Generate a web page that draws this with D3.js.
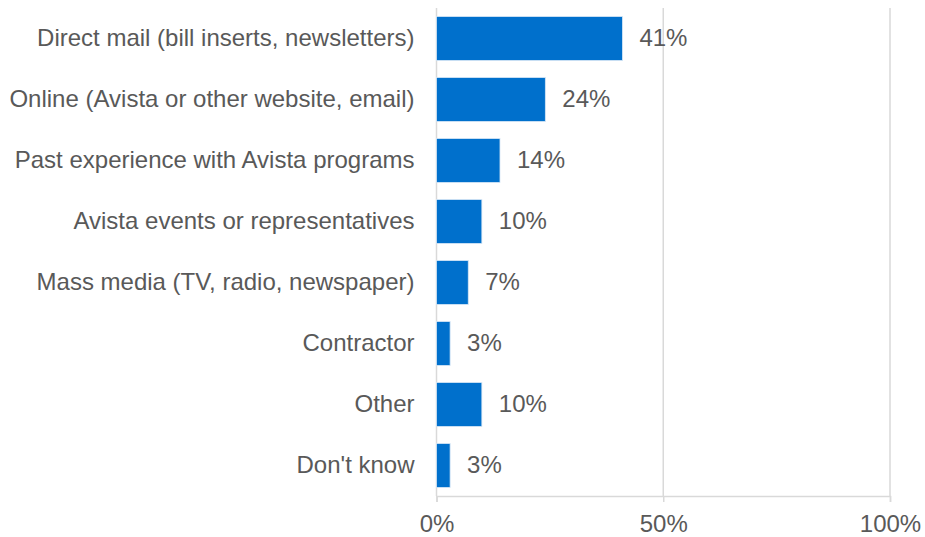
<!DOCTYPE html>
<html>
<head>
<meta charset="utf-8">
<script src="https://cdn.jsdelivr.net/npm/d3@7"></script>
<style>
  html, body { margin: 0; padding: 0; background: #fff; }
  svg { display: block; font-family: "Liberation Sans", Arial, sans-serif; }
</style>
</head>
<body>
<svg id="chart" width="925" height="537"></svg>
<script>
const categories = [
  "Direct mail (bill inserts, newsletters)",
  "Online (Avista or other website, email)",
  "Past experience with Avista programs",
  "Avista events or representatives",
  "Mass media (TV, radio, newspaper)",
  "Contractor",
  "Other",
  "Don't know"
];
const values = [0.41, 0.24, 0.14, 0.10, 0.07, 0.03, 0.10, 0.03];
const tickValues = [0, 0.5, 1];

const svg = d3.select("#chart");
const margin = { top: 8, right: 35, bottom: 41, left: 436.5 };
const width = 925 - margin.left - margin.right;
const height = 537 - margin.top - margin.bottom;
const fontSize = 24;

const g = svg.append("g").attr("transform", `translate(${margin.left},${margin.top})`);

const x = d3.scaleLinear().domain([0, 1]).range([0, width]);
const y = d3.scaleBand().domain(categories).range([0, height]).paddingInner(0.28).paddingOuter(0.14);

const textColor = "#595959";
const gridColor = "#d9d9d9";

// vertical gridlines
g.selectAll(".grid").data(tickValues).enter().append("line")
  .attr("x1", d => x(d)).attr("x2", d => x(d))
  .attr("y1", 0).attr("y2", height)
  .attr("stroke", gridColor).attr("stroke-width", 1.5);

// bottom axis
const xAxis = g.append("g").attr("transform", `translate(0,${height})`)
  .call(d3.axisBottom(x).tickValues(tickValues).tickFormat(d3.format(".0%")).tickSize(6).tickPadding(13));
xAxis.select(".domain").attr("stroke", gridColor).attr("stroke-width", 1.5);
xAxis.selectAll(".tick line").attr("stroke", gridColor).attr("stroke-width", 1.5);
xAxis.selectAll(".tick text").attr("fill", textColor).attr("font-size", fontSize)
  .attr("font-family", "Liberation Sans, Arial, sans-serif");

// bars
g.selectAll(".bar").data(values).enter().append("rect")
  .attr("x", x(0))
  .attr("y", (d, i) => y(categories[i]))
  .attr("width", d => x(d) - x(0))
  .attr("height", y.bandwidth())
  .attr("fill", "#0070cc")
  .attr("stroke", "#d6e6f5").attr("stroke-width", 0.8);

// value labels
g.selectAll(".val").data(values).enter().append("text")
  .attr("x", d => x(d) + 17)
  .attr("y", (d, i) => y(categories[i]) + y.bandwidth() / 2)
  .attr("dy", "0.33em")
  .attr("fill", textColor).attr("font-size", fontSize)
  .text(d => d3.format(".0%")(d));

// category labels
g.selectAll(".cat").data(categories).enter().append("text")
  .attr("x", -22)
  .attr("y", d => y(d) + y.bandwidth() / 2)
  .attr("dy", "0.33em")
  .attr("text-anchor", "end")
  .attr("fill", textColor).attr("font-size", fontSize)
  .text(d => d);
</script>
</body>
</html>
